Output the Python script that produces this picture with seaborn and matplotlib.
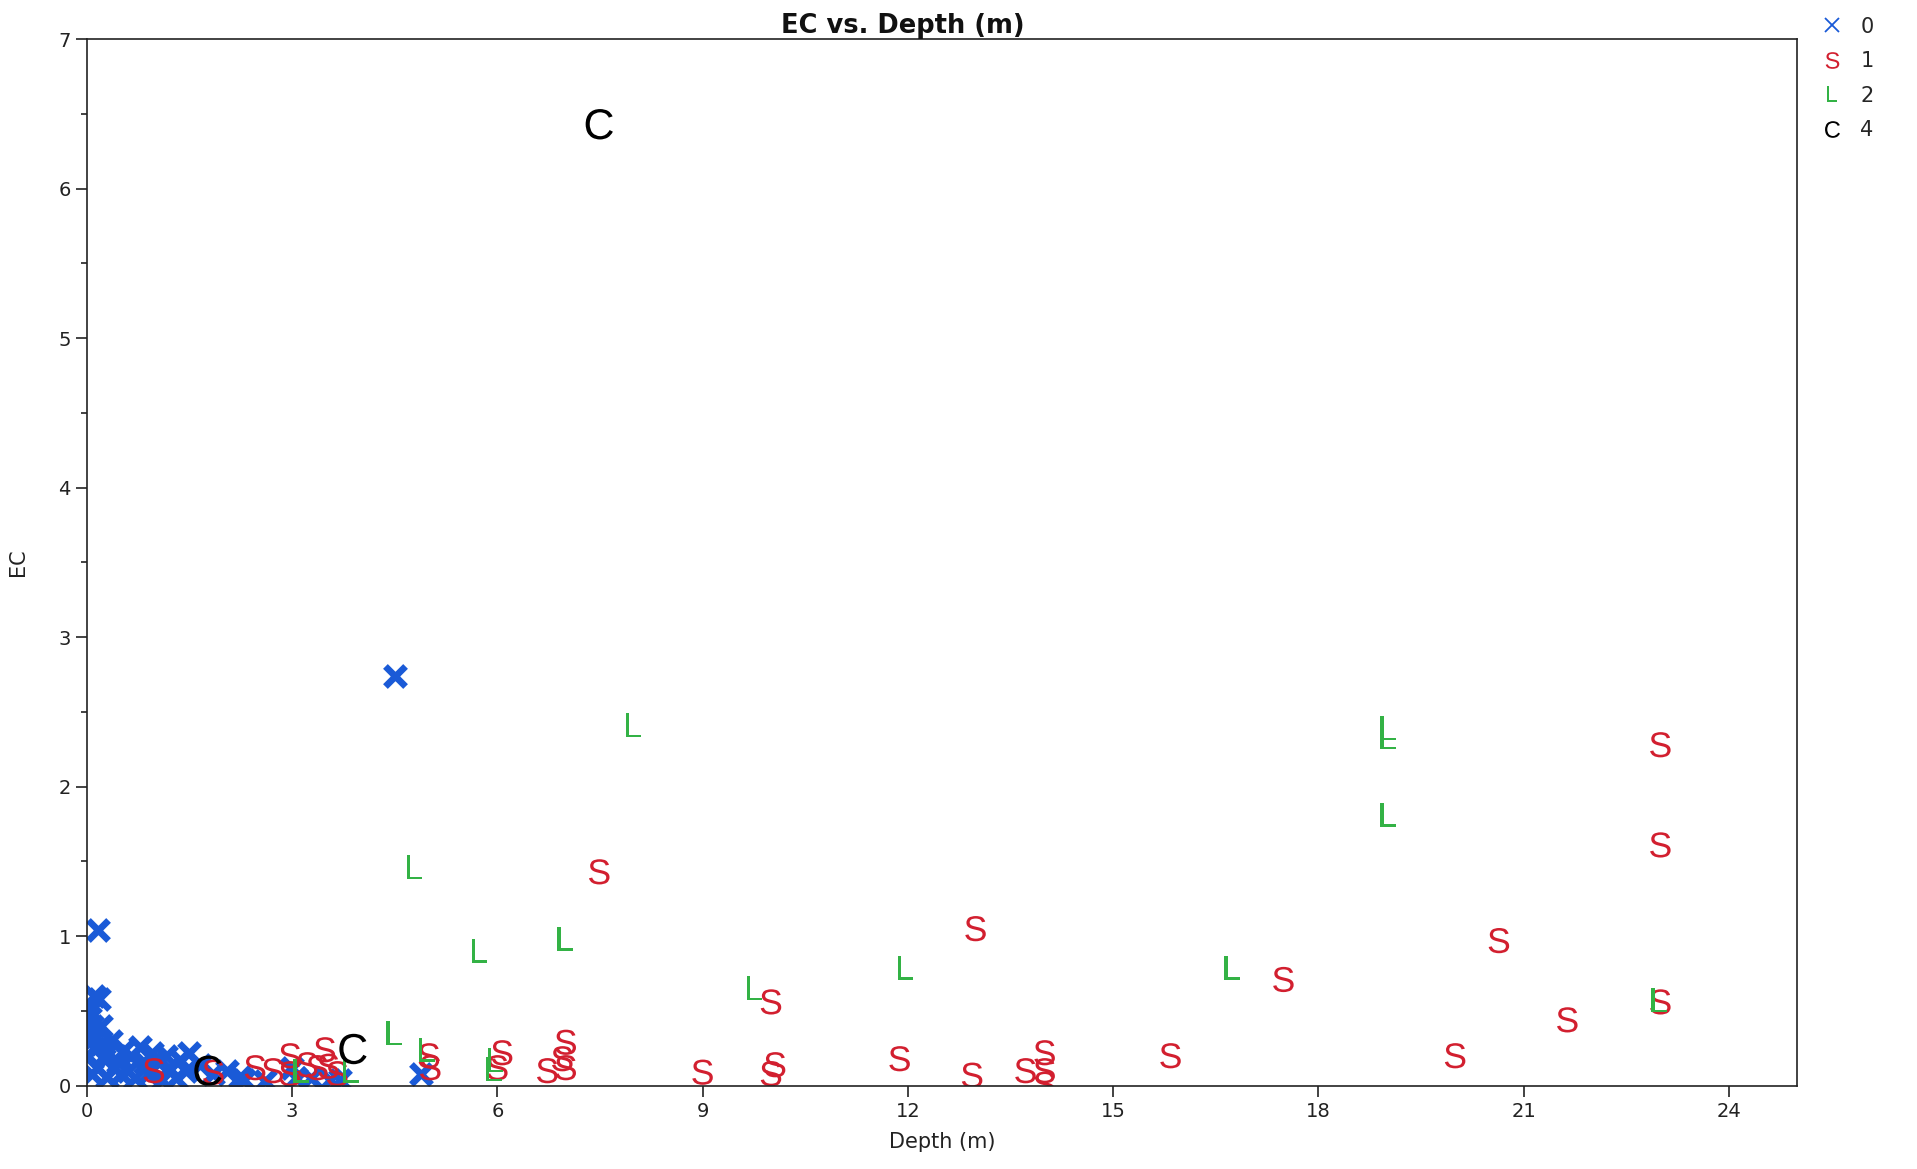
import matplotlib
matplotlib.use("Agg")
import matplotlib.pyplot as plt
import seaborn as sns
import pandas as pd
from matplotlib.lines import Line2D
from matplotlib.ticker import MultipleLocator

# ---------------- data ----------------
class0_x = [4.50, 0.16, 0.10, 0.18, 0.05, 0.04, 0.08, 0.03, 0.12, 0.06, 0.20, 0.10, 0.30, 0.02,
            0.25, 0.45, 0.55, 0.78, 0.65, 0.40, 0.15, 0.60, 0.85, 1.00, 0.90, 1.20, 1.36, 1.50,
            1.45, 1.65, 1.30, 1.10, 0.70, 0.30, 1.85, 2.05, 2.24, 2.30, 2.60, 3.00, 3.05, 3.27,
            3.55, 3.70, 4.88, 0.35, 0.50, 0.95, 1.15, 0.20, 0.08]
class0_y = [2.74, 1.04, 0.60, 0.58, 0.50, 0.45, 0.40, 0.35, 0.33, 0.30, 0.28, 0.25, 0.22, 0.20,
            0.18, 0.16, 0.24, 0.26, 0.20, 0.12, 0.12, 0.10, 0.15, 0.18, 0.08, 0.12, 0.17, 0.22,
            0.10, 0.14, 0.05, 0.04, 0.05, 0.06, 0.08, 0.10, 0.06, 0.04, 0.03, 0.12, 0.05, 0.05,
            0.04, 0.04, 0.08, 0.30, 0.08, 0.22, 0.20, 0.40, 0.08]

class1_x = [7.49, 12.99, 17.49, 20.64, 23.0, 23.0, 23.0, 21.64, 20.0, 15.84, 14.0, 14.0, 13.72,
            14.0, 12.94, 11.88, 10.0, 10.06, 10.0, 9.0, 7.0, 7.0, 6.95, 6.73, 6.07, 6.0, 5.0,
            5.02, 0.98, 1.85, 2.46, 2.72, 2.97, 2.97, 3.22, 3.37, 3.48, 3.53, 3.66]
class1_y = [1.43, 1.05, 0.71, 0.97, 2.28, 1.61, 0.56, 0.44, 0.20, 0.20, 0.22, 0.10, 0.10,
            0.01, 0.07, 0.18, 0.56, 0.14, 0.08, 0.09, 0.29, 0.12, 0.18, 0.10, 0.22, 0.12, 0.20,
            0.12, 0.10, 0.09, 0.12, 0.10, 0.20, 0.08, 0.14, 0.12, 0.24, 0.13, 0.08]

class2_x = [7.99, 4.79, 5.74, 6.99, 9.76, 11.97, 16.74, 19.02, 19.02, 19.02, 22.98, 4.49, 4.97,
            5.97, 5.95, 3.86, 3.13]
class2_y = [2.41, 1.46, 0.90, 0.98, 0.65, 0.79, 0.79, 2.39, 2.33, 1.81, 0.57, 0.35, 0.24,
            0.17, 0.11, 0.10, 0.10]

class4_x = [7.49, 3.89, 1.77]
class4_y = [6.43, 0.245, 0.10]

class_labels = ["0", "1", "2", "4"]

# ---------------- styling ----------------
sns.set_theme(style="white")
plt.rcParams["font.family"] = ["DejaVu Sans"]
plt.rcParams["mathtext.fontset"] = "custom"
plt.rcParams["mathtext.rm"] = "Liberation Sans"

colors = {"0": "#1a5ad7", "1": "#d21f2f", "2": "#33b245", "4": "#000000"}
markers = {"0": "x", "1": r"$\mathrm{S}$", "2": r"$\mathrm{L}$", "4": r"$\mathrm{C}$"}
sizes = {"0": 210, "1": 330, "2": 300, "4": 480}

frames = []
for lab, xs, ys in [("0", class0_x, class0_y), ("1", class1_x, class1_y),
                    ("2", class2_x, class2_y), ("4", class4_x, class4_y)]:
    frames.append(pd.DataFrame({"Depth (m)": xs, "EC": ys, "cls": lab}))
df = pd.concat(frames, ignore_index=True)

fig = plt.figure(figsize=(19.17, 11.69), dpi=100)
ax = fig.add_axes([0.0453, 0.0713, 0.8922, 0.8953])

for lab in class_labels:
    sub = df[df["cls"] == lab]
    if lab == "0":
        sns.scatterplot(data=sub, x="Depth (m)", y="EC", ax=ax, marker="x",
                        color=colors[lab], s=sizes[lab], linewidth=4.8, legend=False)
    else:
        sns.scatterplot(data=sub, x="Depth (m)", y="EC", ax=ax, marker=markers[lab],
                        color=colors[lab], s=sizes[lab], linewidth=0, edgecolor="none",
                        legend=False)

ax.set_xlim(0, 25)
ax.set_ylim(0, 7)
ax.yaxis.set_major_locator(MultipleLocator(1))
ax.yaxis.set_minor_locator(MultipleLocator(0.5))
ax.set_xticks([0, 3, 6, 9, 12, 15, 18, 21, 24])

for sp in ax.spines.values():
    sp.set_visible(True)
    sp.set_color("#222222")
    sp.set_linewidth(1.2)

ax.tick_params(axis="both", which="major", direction="out", length=8, width=1.2,
               color="#222222", labelsize=14, labelcolor="#222222", bottom=True, left=True)
ax.tick_params(axis="y", which="minor", direction="out", length=4, width=1.2,
               color="#222222", left=True)

ax.set_xlabel("Depth (m)", fontsize=15, color="#222222", labelpad=8)
ax.set_ylabel("EC", fontsize=15, color="#222222", labelpad=22)
ax.set_title("EC vs. Depth (m)", fontsize=18.5, fontweight="bold", color="#111111",
             pad=4, x=0.4768)

handles = []
for lab in class_labels:
    if lab == "0":
        handles.append(Line2D([], [], linestyle="none", marker="x", color=colors[lab],
                              markersize=10, markeredgewidth=1.3))
    else:
        handles.append(Line2D([], [], linestyle="none", marker=markers[lab], color=colors[lab],
                              markersize=12, markeredgewidth=0))
fig.legend(handles, class_labels, loc="upper left", bbox_to_anchor=(0.946, 0.993),
           frameon=False, fontsize=15, handlelength=1.0, handletextpad=0.85, labelspacing=0.7,
           borderaxespad=0)

fig.savefig("out.png", dpi=100)
